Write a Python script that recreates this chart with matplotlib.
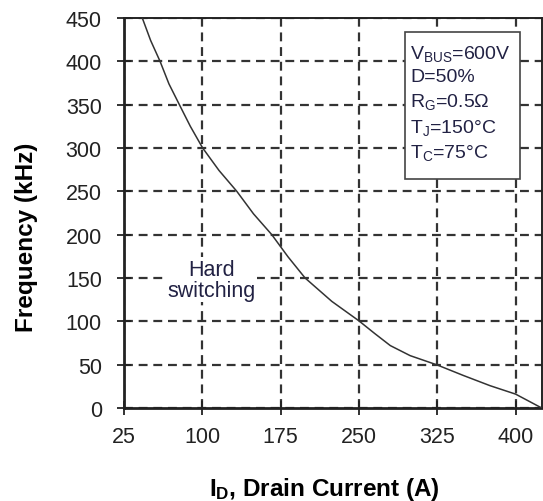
import matplotlib.pyplot as plt
from matplotlib.patches import Rectangle
from matplotlib.ticker import FixedLocator

plt.rcParams['font.family'] = ['Liberation Sans', 'DejaVu Sans']
plt.rcParams['mathtext.fontset'] = 'custom'
plt.rcParams['mathtext.rm'] = 'Liberation Sans'
plt.rcParams['mathtext.it'] = 'Liberation Sans'
plt.rcParams['mathtext.bf'] = 'Liberation Sans:bold'

# curve
drain_current = [42.5, 50.5, 59.5, 68, 78, 88.5, 100.3, 116, 133, 149, 166.5, 182, 198.4,
                 224, 250, 265, 280, 299, 325, 350, 375.6, 400, 425]
frequency = [450, 424, 400, 374, 350, 325, 300, 274, 250, 224, 200, 174.5, 150,
             123, 100.5, 86, 72, 60.4, 49.6, 37.5, 25.7, 16, 0]

x_ticks = [25, 100, 175, 250, 325, 400]
y_ticks = [0, 50, 100, 150, 200, 250, 300, 350, 400, 450]

conditions = [r'V$_{\mathrm{BUS}}$=600V', 'D=50%', r'R$_{\mathrm{G}}$=0.5$\Omega$',
              r'T$_{\mathrm{J}}$=150°C', r'T$_{\mathrm{C}}$=75°C']

fig = plt.figure(figsize=(5.43, 5.02), dpi=100)
ax = fig.add_axes([0.2284, 0.1853, 0.7692, 0.7769])

ax.plot(drain_current, frequency, color='#333333', lw=1.1, zorder=3)

ax.set_xlim(25, 425)
ax.set_ylim(0, 450)
ax.xaxis.set_major_locator(FixedLocator(x_ticks))
ax.yaxis.set_major_locator(FixedLocator(y_ticks))
ax.grid(True, color='#333333', lw=1.6, linestyle=(0, (4, 2.6)))
ax.tick_params(direction='inout', length=10, width=1.3, labelsize=15.5, colors='#222222')
ax.tick_params(axis='x', pad=8)
ax.tick_params(axis='y', pad=11)

for side in ['left', 'bottom']:
    ax.spines[side].set_linewidth(2.0)
for side in ['top', 'right']:
    ax.spines[side].set_linewidth(1.4)
for s in ax.spines.values():
    s.set_color('#222222')

ax.set_ylabel('Frequency (kHz)', fontsize=17.5, fontweight='bold', labelpad=20)
ax.yaxis.label.set_y(0.44)
ax.set_xlabel(r'I$_{\mathbf{D}}$, Drain Current (A)', fontsize=17.5, fontweight='bold', labelpad=20)
ax.xaxis.label.set_x(0.481)

ax.text(109, 148, 'Hard\nswitching', ha='center', va='center', fontsize=15.5,
        color='#222244', linespacing=1.0, zorder=4,
        bbox=dict(facecolor='white', edgecolor='none', pad=1))

# conditions box
ax.add_patch(Rectangle((0.673, 0.587), 0.275, 0.377, transform=ax.transAxes,
                       facecolor='white', edgecolor='#444444', lw=1.2, zorder=5))
ax.text(0.685, 0.935, '\n'.join(conditions), transform=ax.transAxes, ha='left', va='top',
        fontsize=14, color='#222244', linespacing=1.38, zorder=6)

fig.savefig('out.png', dpi=100)
